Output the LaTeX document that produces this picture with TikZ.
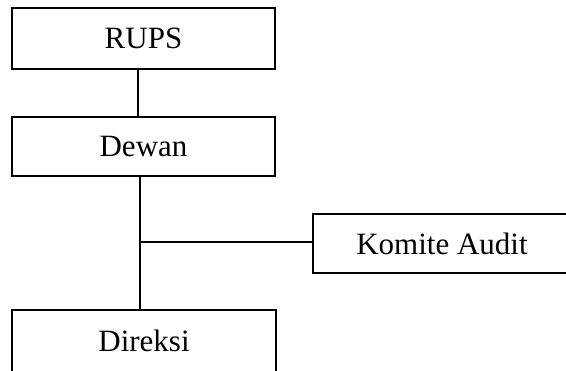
\documentclass[tikz,border=0pt]{standalone}
\usepackage{fontspec}
\setmainfont{Liberation Serif}
\begin{document}
\begin{tikzpicture}[x=1pt, y=-1pt,
        unit/.style={draw, line width=2pt, inner sep=0pt, minimum width=263pt,
            minimum height=60pt, font=\fontsize{31}{37}\selectfont},
        link/.style={line width=1.5pt}]
        % fixing the size of the picture
        \useasboundingbox (0,0) rectangle (566,371);

        % the box of RUPS
        \node[unit, minimum height=61pt] (rups) at (143.5,38.5) {RUPS};
        % the box of Dewan
        \node[unit, minimum height=59pt] (dewan) at (143.5,146.5) {Dewan};
        % the box of Komite Audit (runs past the right border)
        \node[unit, minimum width=258pt, minimum height=59pt] (komite) at (442,243.5) {Komite Audit};
        % the box of Direksi (runs past the bottom border)
        \node[unit, minimum width=264pt, minimum height=62pt] (direksi) at (144,341) {Direksi};

        % the branching point to Komite Audit
        \coordinate (cabang) at (140,242);

        % Line from RUPS to Dewan
        \draw[link] ([xshift=-5.5pt]rups.south) -- ([xshift=-5.5pt]dewan.north);
        % Line from Dewan to Direksi
        \draw[link] (dewan.south -| cabang) -- (direksi.north -| cabang);
        % Line from the branch to Komite Audit
        \draw[link] (cabang) -- (komite.west |- cabang);
    \end{tikzpicture}
\end{document}
